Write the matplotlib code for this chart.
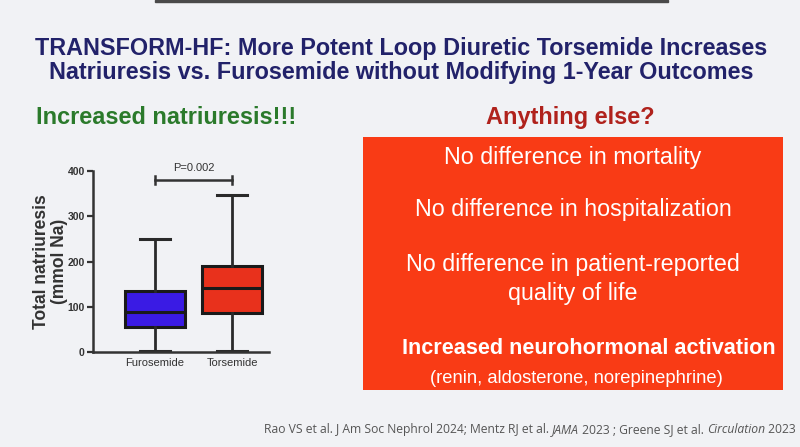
import matplotlib
matplotlib.use("Agg")
import matplotlib.pyplot as plt
from matplotlib.patches import Rectangle

# ---------------- data ----------------
groups = ["Furosemide", "Torsemide"]
whisker_low = [3, 3]
q1 = [55, 86]
median = [89, 142]
q3 = [134, 189]
whisker_high = [250, 348]
box_colors = ["#3A1BE4", "#E8311C"]
y_ticks = [0, 100, 200, 300, 400]
p_label = "P=0.002"
p_bracket_y = 381

title_lines = ["TRANSFORM-HF: More Potent Loop Diuretic Torsemide Increases",
               "Natriuresis vs. Furosemide without Modifying 1-Year Outcomes"]
left_heading = "Increased natriuresis!!!"
right_heading = "Anything else?"
box_lines = ["No difference in mortality",
             "No difference in hospitalization",
             "No difference in patient-reported",
             "quality of life"]
bold_line = "Increased neurohormonal activation"
small_line = "(renin, aldosterone, norepinephrine)"
footer_parts = [("Rao VS et al. J Am Soc Nephrol 2024; Mentz RJ et al. ", "normal"),
                ("JAMA", "italic"),
                (" 2023 ; Greene SJ et al. ", "normal"),
                ("Circulation", "italic"),
                (" 2023", "normal")]

W, H = 800, 447
NARROW = ["Liberation Sans Narrow", "Liberation Sans", "DejaVu Sans"]
SANS = ["Liberation Sans", "DejaVu Sans"]
FOOT = ["Open Sans", "DejaVu Sans"]

fig = plt.figure(figsize=(W / 100, H / 100), dpi=100, facecolor="#F1F2F5")
renderer = fig.canvas.get_renderer()


def fx(x):
    return x / W


def fy(y):
    return 1 - y / H


def fit_size(text, target_px, **kw):
    t = fig.text(0, 0, text, fontsize=10, **kw)
    w = t.get_window_extent(renderer=renderer).width
    t.remove()
    return 10 * target_px / w


# top dark strip (screen frame)
fig.patches.append(Rectangle((fx(155), fy(2)), fx(668) - fx(155), 2 / H,
                             transform=fig.transFigure, color="#4a4a4a", zorder=0))

# title
ts = fit_size(title_lines[0], 732, fontweight="bold", family=NARROW)
for i, line in enumerate(title_lines):
    fig.text(fx(401), fy(55 + 24 * i), line, ha="center", va="baseline",
             fontsize=ts, fontweight="bold", color="#22226A", family=NARROW)

hs = fit_size(left_heading, 261, fontweight="bold", family=SANS)
fig.text(fx(36), fy(124), left_heading, ha="left", va="baseline",
         fontsize=hs, fontweight="bold", color="#2B7A2B", family=SANS)
fig.text(fx(570), fy(124), right_heading, ha="center", va="baseline",
         fontsize=hs, fontweight="bold", color="#B0221C", family=SANS)

# red box
fig.patches.append(Rectangle((fx(363), fy(390)), fx(783) - fx(363), (390 - 137) / H,
                             transform=fig.transFigure, facecolor="#F93B15",
                             edgecolor="none", zorder=1))
cx = fx(573)
bs = fit_size(box_lines[1], 317, family=SANS)
for line, yb in zip(box_lines, [164, 216, 271, 300]):
    fig.text(cx, fy(yb), line, ha="center", va="baseline", fontsize=bs,
             color="white", family=SANS, zorder=2)
bbs = fit_size(bold_line, 372, fontweight="bold", family=SANS)
fig.text(fx(589), fy(354), bold_line, ha="center", va="baseline", fontsize=bbs,
         fontweight="bold", color="white", family=SANS, zorder=2)
ss = fit_size(small_line, 294, family=SANS)
fig.text(fx(576), fy(383), small_line, ha="center", va="baseline", fontsize=ss,
         color="white", family=SANS, zorder=2)

# box plot axes
ax = fig.add_axes([fx(93), fy(352), fx(269) - fx(93), (352 - 171) / H])
ax.set_facecolor("none")
stats = []
for g, lo, a, m, b, hi in zip(groups, whisker_low, q1, median, q3, whisker_high):
    stats.append(dict(label=g, whislo=lo, q1=a, med=m, q3=b, whishi=hi, fliers=[]))
bp = ax.bxp(stats, positions=[1, 2], widths=0.78, patch_artist=True,
            showfliers=False, capwidths=0.4,
            boxprops=dict(linewidth=2.2, edgecolor="#1a1a1a"),
            medianprops=dict(linewidth=2.2, color="#1a1a1a"),
            whiskerprops=dict(linewidth=2.0, color="#2a2a2a"),
            capprops=dict(linewidth=2.2, color="#2a2a2a"))
for patch, c in zip(bp["boxes"], box_colors):
    patch.set_facecolor(c)

ax.set_xlim(0.195, 2.48)
ax.set_ylim(0, 400)
ax.set_yticks(y_ticks)
ax.set_yticklabels([str(t) for t in y_ticks], fontsize=7.5, fontweight="bold",
                   family=SANS, color="#333333")
ax.set_xticks([1, 2])
ax.set_xticklabels(groups, fontsize=8, family=NARROW, color="#333333")
ax.tick_params(axis="x", length=0, pad=4)
ax.tick_params(axis="y", length=4, width=1.6, color="#333333", pad=2)
for s in ["top", "right"]:
    ax.spines[s].set_visible(False)
for s in ["left", "bottom"]:
    ax.spines[s].set_linewidth(1.8)
    ax.spines[s].set_color("#333333")
ls = fit_size("Total natriuresis", 135, fontweight="bold", family=SANS)
ax.set_ylabel("Total natriuresis\n(mmol Na)", fontsize=ls, fontweight="bold",
              family=SANS, color="#333333", labelpad=-0.5, linespacing=1.05)

# p-value bracket
ax.plot([1, 2], [p_bracket_y, p_bracket_y], color="#333333", lw=1.8, clip_on=False)
for xp in [1, 2]:
    ax.plot([xp, xp], [p_bracket_y - 9, p_bracket_y + 9], color="#333333",
            lw=1.8, clip_on=False)
ax.text(1.5, 396, p_label, ha="center", va="bottom", fontsize=8, family=NARROW,
        color="#333333")

# footer with italic parts
total = 0
for txt, style in footer_parts:
    t = fig.text(0, 0, txt, fontsize=10, style=style, family=FOOT)
    total += t.get_window_extent(renderer=renderer).width
    t.remove()
fs = 10 * 533 / total
x = fx(264)
for txt, style in footer_parts:
    t = fig.text(x, fy(433), txt, ha="left", va="baseline", fontsize=fs,
                 style=style, color="#555555", family=FOOT)
    bb = t.get_window_extent(renderer=renderer)
    x = bb.x1 / W

fig.savefig("out.png", dpi=100, facecolor=fig.get_facecolor())
